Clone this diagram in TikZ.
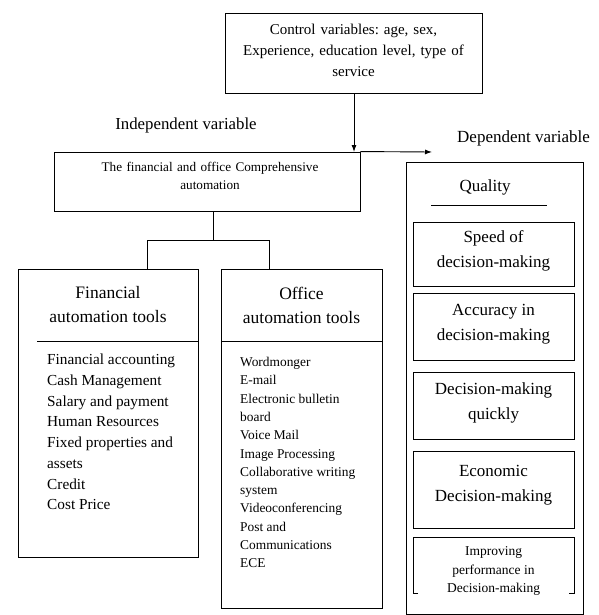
\documentclass[tikz,border=0pt]{standalone}
\usepackage{fontspec}
\setmainfont{Liberation Serif}
\usetikzlibrary{arrows.meta}
\frenchspacing
\begin{document}
\begin{tikzpicture}[x=1pt,y=-1pt,
  box/.style={draw,line width=0.9pt,inner sep=0pt},
  lbl/.style={inner sep=0pt,align=center},
  lst/.style={inner sep=0pt,align=left,anchor=north west},
  ln/.style={line width=0.9pt},
  arr/.style={line width=0.9pt,-{Latex[length=7pt,width=5pt]}}]
\useasboundingbox (0,0) rectangle (598,615);
% control box
\node[box,minimum width=257pt,minimum height=80pt] (ctrl) at (353.5,53) {};
\node[lbl,font=\fontsize{15}{21}\selectfont,text width=255pt] (ctrlt) at (353.5,50)
  {Control variables: age, sex,\\Experience, education level, type of\\service};
% independent box
\node[box,minimum width=306pt,minimum height=59pt] (ind) at (207,181.5) {};
\node[lbl,font=\fontsize{13.2}{18}\selectfont,text width=300pt] (indt) at (210,176)
  {The financial and office Comprehensive\\automation};
\node[lbl,font=\fontsize{16.8}{17}\selectfont] (indl) at (186,125) {Independent variable};
\node[lbl,font=\fontsize{17}{17}\selectfont] (depl) at (523.5,138) {Dependent variable};
% arrows
\coordinate (ctrlhit) at (354,152);
\coordinate (arrend) at (432,152);
\draw[arr] (ctrl.south -| ctrlhit) -- (ctrlhit);
\draw[arr] (ind.north east) -- (arrend);
% financial box
\node[box,minimum width=180pt,minimum height=288pt] (fin) at (108,413) {};
\node[lbl,font=\fontsize{17.5}{24}\selectfont] (fint) at (108,305) {Financial\\automation tools};
\coordinate (findl) at (37,341);
\draw[ln] (findl) -- (findl -| fin.east);
\node[lst,font=\fontsize{15.3}{20.7}\selectfont] (finl) at (47,354)
  {Financial accounting\\Cash Management\\Salary and payment\\Human Resources\\Fixed properties and\\assets\\Credit\\Cost Price};
% office box
\node[box,minimum width=161pt,minimum height=339pt] (off) at (301.5,438.5) {};
\node[lbl,font=\fontsize{17.5}{24}\selectfont] (offt) at (301.5,305) {Office\\automation tools};
\coordinate (offdl) at (221,341);
\draw[ln] (offdl) -- (offdl -| off.east);
\node[lst,font=\fontsize{13.4}{18.3}\selectfont] (offl) at (240,357)
  {Wordmonger\\E-mail\\Electronic bulletin\\board\\Voice Mail\\Image Processing\\Collaborative writing\\system\\Videoconferencing\\Post and\\Communications\\ECE};
% tree connectors
\coordinate (j1) at (213,240);
\draw[ln] (ind.south -| j1) -- (j1);
\draw[ln] (fin.north -| 147,0) -- (147,240) -- (269,240) -- (off.north -| 269,0);
% dependent box
\node[box,minimum width=177pt,minimum height=452pt] (dep) at (494.5,388.5) {};
\node[lbl,font=\fontsize{17}{18}\selectfont] (qual) at (485,187) {Quality};
\coordinate (qa) at (431,205);
\coordinate (qb) at (547,205);
\draw[ln] (qa) -- (qb);
\node[box,minimum width=161pt,minimum height=64pt] (d1) at (493.5,254) {};
\node[lbl,font=\fontsize{17}{25}\selectfont] (d1t) at (493.5,251) {Speed of\\decision-making};
\node[box,minimum width=161pt,minimum height=67pt] (d2) at (493.5,326.5) {};
\node[lbl,font=\fontsize{17}{25}\selectfont] (d2t) at (493.5,324) {Accuracy in\\decision-making};
\node[box,minimum width=161pt,minimum height=67pt] (d3) at (493.5,405.5) {};
\node[lbl,font=\fontsize{17}{25}\selectfont] (d3t) at (493.5,403) {Decision-making\\quickly};
\node[box,minimum width=161pt,minimum height=77pt] (d4) at (493.5,489.5) {};
\node[lbl,font=\fontsize{17}{25}\selectfont] (d4t) at (493.5,485) {Economic\\Decision-making};
\coordinate (d5a) at (413,537);
\coordinate (d5b) at (574,593);
\draw[ln] ([xshift=5pt]d5a |- d5b) -- (d5a |- d5b) -- (d5a) -- (d5b |- d5a) -- (d5b) -- ([xshift=-5pt]d5b);
\node[lbl,font=\fontsize{13.5}{18.5}\selectfont] (d5t) at (493.5,571) {Improving\\performance in\\Decision-making};
\end{tikzpicture}
\end{document}
